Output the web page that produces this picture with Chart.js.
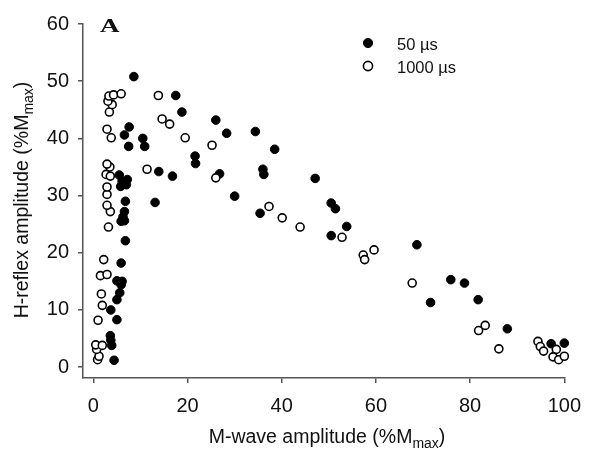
<!DOCTYPE html>
<html>
<head>
<meta charset="utf-8">
<script src="https://cdn.jsdelivr.net/npm/chart.js@4.4.1/dist/chart.umd.min.js"></script>
<style>
  body { margin: 0; background: #fff; }
  #caja { width: 592px; height: 450px; }
</style>
</head>
<body>
<div id="caja"><canvas id="grafico"></canvas></div>
<script>
const xTicks = [0, 20, 40, 60, 80, 100];
const yTicks = [0, 10, 20, 30, 40, 50, 60];
const etiquetas = ["50 µs", "1000 µs"];

// 50 us (puntos rellenos)
const x50 = [4.4, 3.9, 3.7, 3.6, 5.0, 3.7, 5.0, 5.6, 5.9, 6.1, 5.0, 5.9, 6.8, 5.9, 6.6, 6.3, 6.6, 6.8, 7.0, 5.8, 6.1, 7.2, 5.5,
  7.5, 6.6, 7.6, 8.6, 10.5, 10.9, 13.1, 13.9, 16.8, 17.5, 18.8, 21.6, 21.7, 26.0, 26.8, 28.3, 30.0, 34.4, 35.4, 36.0, 36.2, 38.5,
  47.1, 50.5, 51.4, 50.5, 53.8, 68.7, 71.6, 75.9, 78.8, 81.7, 87.9, 97.2, 100];
const y50 = [1.2, 3.8, 4.7, 5.5, 8.3, 10.0, 11.8, 13.0, 14.4, 15.0, 15.1, 18.2, 22.1, 25.5, 25.6, 26.3, 27.2, 29.0, 31.9, 31.6, 32.5, 32.8, 33.6,
  38.6, 40.6, 42.0, 50.8, 40.0, 38.6, 28.8, 34.2, 33.4, 47.5, 44.6, 36.9, 35.6, 43.2, 33.8, 40.9, 29.9, 41.2, 26.9, 34.6, 33.7, 38.1,
  33.0, 28.7, 27.7, 23.0, 24.6, 21.4, 11.3, 15.3, 14.7, 11.8, 6.7, 4.1, 4.2];

// 1000 us (puntos abiertos)
const x1000 = [0.9, 1.2, 0.7, 0.5, 1.9, 1.0, 1.9, 1.7, 1.5, 2.9, 2.2, 3.2, 3.6, 2.9, 2.9, 2.9, 2.7, 3.6, 3.5, 2.9, 3.8, 2.9, 3.4, 4.0,
  3.1, 3.3, 4.3, 5.9, 11.4, 13.8, 14.6, 16.2, 19.5, 25.2, 26.0, 37.3, 40.1, 43.9, 52.8, 57.3, 57.6, 59.6, 67.7, 81.8, 83.2, 86.1,
  94.4, 94.9, 95.6, 98.3, 97.6, 98.8, 100];
const y1000 = [1.3, 1.9, 3.1, 3.9, 3.8, 8.2, 10.8, 12.8, 16.0, 16.2, 18.8, 24.5, 27.2, 28.3, 30.2, 31.5, 33.7, 33.4, 35.0, 35.5, 40.1, 41.6, 44.6, 45.9,
  46.5, 47.4, 47.6, 47.8, 34.6, 47.5, 43.4, 42.5, 40.1, 38.8, 33.1, 28.1, 26.1, 24.5, 22.7, 19.6, 18.8, 20.5, 14.7, 6.4, 7.3, 3.2,
  4.5, 3.6, 2.8, 3.1, 1.8, 1.3, 1.9];

const fuente = "'Liberation Sans', Arial, sans-serif";
const colorTexto = "#111";
const colorEje = "#555";

const puntos = (xs, ys) => xs.map((x, i) => ({ x: x, y: ys[i] }));

// texto con subindice: principal + sub + cola, centrado en (0,0)
const TextoSub = (ctx, principal, sub, cola) => {
  ctx.font = `19.5px ${fuente}`;
  const w1 = ctx.measureText(principal).width;
  const w3 = ctx.measureText(cola).width;
  ctx.font = `14px ${fuente}`;
  const w2 = ctx.measureText(sub).width;
  let x = -(w1 + w2 + w3) / 2;
  ctx.textAlign = "left";
  ctx.textBaseline = "alphabetic";
  ctx.fillStyle = colorTexto;
  ctx.font = `19.5px ${fuente}`;
  ctx.fillText(principal, x, 0);
  ctx.font = `14px ${fuente}`;
  ctx.fillText(sub, x + w1, 5);
  ctx.font = `19.5px ${fuente}`;
  ctx.fillText(cola, x + w1 + w2, 0);
};

const extras = {
  id: "extras",
  afterDraw(chart) {
    const ctx = chart.ctx;
    // titulo eje x
    ctx.save();
    ctx.translate(327, 443);
    TextoSub(ctx, "M-wave amplitude (%M", "max", ")");
    ctx.restore();
    // titulo eje y
    ctx.save();
    ctx.translate(28, 200);
    ctx.rotate(-Math.PI / 2);
    TextoSub(ctx, "H-reflex amplitude (%M", "max", ")");
    ctx.restore();
    // letra del panel
    ctx.save();
    ctx.translate(100, 32);
    ctx.scale(1.5, 1);
    ctx.font = "bold 18px 'Liberation Serif', 'Times New Roman', serif";
    ctx.fillStyle = colorTexto;
    ctx.textAlign = "left";
    ctx.textBaseline = "alphabetic";
    ctx.fillText("A", 0, 0);
    ctx.restore();
    // leyenda
    ctx.save();
    chart.data.datasets.forEach((ds, i) => {
      const cy = 43 + i * 23;
      ctx.beginPath();
      ctx.arc(368, cy, 4.6, 0, Math.PI * 2);
      ctx.fillStyle = ds.backgroundColor;
      ctx.fill();
      ctx.lineWidth = ds.borderWidth;
      ctx.strokeStyle = ds.borderColor;
      ctx.stroke();
      ctx.font = `16.5px ${fuente}`;
      ctx.fillStyle = colorTexto;
      ctx.textAlign = "left";
      ctx.textBaseline = "alphabetic";
      ctx.fillText(ds.label, 397, cy + 7);
    });
    ctx.restore();
  }
};

const grafico = document.querySelector("#grafico");
const graf = new Chart(grafico, {
  type: "scatter",
  data: {
    datasets: [
      {
        label: etiquetas[0],
        data: puntos(x50, y50),
        backgroundColor: "#000",
        borderColor: "#000",
        borderWidth: 1,
        pointRadius: 4.3,
        order: 1,
        clip: false,
      },
      {
        label: etiquetas[1],
        data: puntos(x1000, y1000),
        backgroundColor: "#fff",
        borderColor: "#000",
        borderWidth: 1.6,
        pointRadius: 4,
        order: 0,
        clip: false,
      },
    ],
  },
  options: {
    responsive: true,
    maintainAspectRatio: false,
    animation: false,
    layout: { padding: { top: 24, right: 16, left: 0, bottom: 0 } },
    plugins: {
      legend: { display: false },
      tooltip: { enabled: false },
    },
    scales: {
      x: {
        type: "linear",
        min: -2.2,
        max: 100,
        afterBuildTicks: (eje) => { eje.ticks = xTicks.map(v => ({ value: v })); },
        afterFit: (eje) => { eje.height = 72; },
        grid: { display: true, drawOnChartArea: false, drawTicks: true, tickLength: 5, color: colorEje, lineWidth: 1.5 },
        border: { display: true, color: colorEje, width: 1.5 },
        ticks: { autoSkip: false, maxRotation: 0, padding: 11, color: colorTexto, font: { family: fuente, size: 20 } },
      },
      y: {
        type: "linear",
        min: -1.9,
        max: 60,
        afterBuildTicks: (eje) => { eje.ticks = yTicks.map(v => ({ value: v })); },
        afterFit: (eje) => { eje.width = 83; },
        grid: { display: true, drawOnChartArea: false, drawTicks: true, tickLength: 5, color: colorEje, lineWidth: 1.5 },
        border: { display: true, color: colorEje, width: 1.5 },
        ticks: { autoSkip: false, padding: 9, color: colorTexto, font: { family: fuente, size: 20 } },
      },
    },
  },
  plugins: [extras],
});
</script>
</body>
</html>
